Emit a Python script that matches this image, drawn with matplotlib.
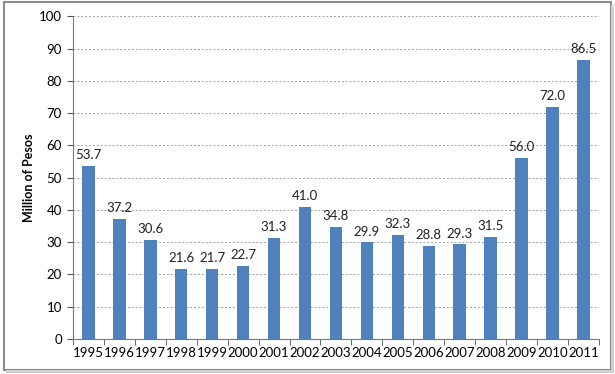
import matplotlib
matplotlib.use("Agg")
import matplotlib.pyplot as plt
from matplotlib.patches import Rectangle

years = ["1995", "1996", "1997", "1998", "1999", "2000", "2001", "2002", "2003",
         "2004", "2005", "2006", "2007", "2008", "2009", "2010", "2011"]
values = [53.7, 37.2, 30.6, 21.6, 21.7, 22.7, 31.3, 41.0, 34.8,
          29.9, 32.3, 28.8, 29.3, 31.5, 56.0, 72.0, 86.5]
y_ticks = [0, 10, 20, 30, 40, 50, 60, 70, 80, 90, 100]

plt.rcParams['font.family'] = ['Lato', 'DejaVu Sans']

fig = plt.figure(figsize=(6.15, 3.74), dpi=100)
fig.patch.set_facecolor('white')

# figure frame with shadow
fig.patches.append(Rectangle((0.006, 0.012), 0.988, 0.982, transform=fig.transFigure,
                             facecolor='none', edgecolor='#8c8c8c', linewidth=1.5, zorder=0))
fig.patches.append(Rectangle((0.010, 0.004), 0.988, 0.006, transform=fig.transFigure,
                             facecolor='#d0d0d0', edgecolor='none', zorder=0))
fig.patches.append(Rectangle((0.994, 0.004), 0.005, 0.982, transform=fig.transFigure,
                             facecolor='#d0d0d0', edgecolor='none', zorder=0))

ax = fig.add_axes([0.1187, 0.0936, 0.855, 0.863])
x = list(range(len(years)))
ax.bar(x, values, width=0.4, color='#4F81BD', zorder=3)
for xi, v in zip(x, values):
    ax.text(xi, v + 1.5, f"{v:.1f}", ha='center', va='bottom', fontsize=9.5, color='#222222')

ax.set_xlim(-0.5, len(years) - 0.5)
ax.set_ylim(0, 100)
ax.set_yticks(y_ticks)
ax.set_xticks(x)
ax.set_xticklabels(years)
ax.set_xticks([i - 0.5 for i in range(len(years) + 1)], minor=True)
ax.tick_params(axis='x', which='major', length=0, pad=6, labelsize=9.5)
ax.tick_params(axis='x', which='minor', length=4, direction='out', color='#555555')
ax.tick_params(axis='y', length=4, direction='out', color='#555555', labelsize=9.5, pad=4)

ax.grid(axis='y', linestyle=(0, (2, 2)), color='#a0a0a0', linewidth=0.7, zorder=0)
for s in ['top', 'right']:
    ax.spines[s].set_visible(False)
ax.spines['left'].set_color('#777777')
ax.spines['bottom'].set_color('#777777')

ax.set_ylabel("Million of Pesos", fontsize=9, fontweight='bold', labelpad=0)
ax.yaxis.set_label_coords(-0.072, 0.5)

fig.savefig("out.png", dpi=100)
